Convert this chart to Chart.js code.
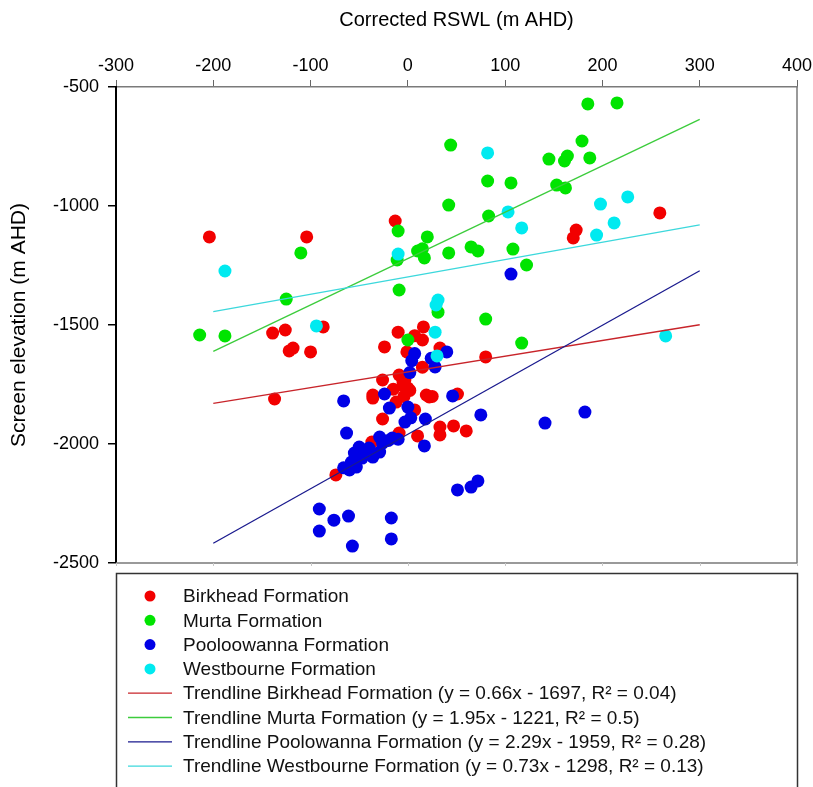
<!DOCTYPE html>
<html>
<head>
<meta charset="utf-8">
<script src="https://cdn.jsdelivr.net/npm/chart.js@4.4.1/dist/chart.umd.min.js"></script>
<style>
  html, body { margin: 0; padding: 0; background: #fff; }
  #wrap { width: 813px; height: 787px; }
</style>
</head>
<body>
<div id="wrap"><canvas id="scatterChart" width="813" height="787"></canvas></div>
<script>
// values: [Corrected RSWL, Screen elevation] in m AHD
var birkhead = [
  [-204, -1130], [-104, -1130], [-13, -1063], [259, -1029], [173, -1101], [170, -1134],
  [-139, -1534], [-126, -1521], [-122, -1609], [-118, -1597], [-100, -1613], [-87, -1508], [-137, -1811],
  [-10, -1530], [16, -1508], [-24, -1592], [7, -1545], [15, -1563], [-1, -1613], [15, -1677],
  [-26, -1731], [-9, -1710], [-5, -1740], [0, -1765], [-5, -1755], [-36, -1794], [19, -1794],
  [33, -1597], [25, -1800], [-36, -1807], [-12, -1824], [7, -1857], [-26, -1895], [-9, -1954],
  [10, -1966], [33, -1929], [33, -1962], [47, -1924], [60, -1945], [-37, -1992], [-74, -2130],
  [80, -1634], [51, -1790], [-3, -1730], [2, -1775], [-15, -1770], [-4, -1800], [22, -1802]
];
var murta = [
  [185, -571], [215, -567], [44, -744], [179, -727], [145, -803], [161, -811], [164, -790],
  [187, -798], [82, -895], [106, -903], [153, -912], [162, -924], [42, -996], [83, -1042],
  [20, -1130], [10, -1189], [17, -1218], [42, -1197], [65, -1172], [72, -1189], [108, -1181],
  [122, -1248], [80, -1475], [31, -1446], [-10, -1105], [-11, -1227], [-9, -1353], [15, -1180],
  [-110, -1197], [-125, -1391], [-214, -1542], [-188, -1546], [0, -1563], [117, -1576]
];
var poolowanna = [
  [106, -1286], [40, -1613], [28, -1676], [24, -1640], [46, -1798], [75, -1878], [141, -1912],
  [182, -1866], [17, -2008], [18, -1895], [-3, -1908], [0, -1845], [51, -2193], [65, -2181],
  [72, -2155], [7, -1620], [4, -1650], [2, -1700], [-66, -1819], [-63, -1954], [-24, -1790],
  [-19, -1849], [-91, -2273], [-76, -2320], [-61, -2303], [-91, -2366], [-57, -2429], [-17, -2311],
  [-17, -2399], [-29, -1971], [-16, -1975], [-10, -1980], [-26, -1996], [-40, -2017], [-50, -2013],
  [-55, -2038], [-47, -2059], [-36, -2055], [-29, -2034], [-58, -2076], [-53, -2097], [-60, -2109],
  [-66, -2100], [-44, -2040], [-20, -1985], [3, -1890]
];
var westbourne = [
  [-188, -1273], [-10, -1202], [-94, -1504], [31, -1395], [29, -1416], [28, -1530], [82, -777],
  [103, -1025], [117, -1092], [198, -992], [226, -962], [212, -1071], [194, -1122], [265, -1546],
  [30, -1630]
];

// trendline end points (x = -200 and x = 300)
var trendBirkhead = [[-200, -1829], [300, -1499]];
var trendMurta = [[-200, -1611], [300, -636]];
var trendPoolowanna = [[-200, -2417], [300, -1272]];
var trendWestbourne = [[-200, -1444], [300, -1079]];

var xTicks = [-300, -200, -100, 0, 100, 200, 300, 400];
var yTicks = [-500, -1000, -1500, -2000, -2500];

function toPoints(list) {
  return list.map(function (p) { return { x: p[0], y: p[1] }; });
}

function pointSet(label, list, color, order) {
  return {
    label: label,
    data: toPoints(list),
    backgroundColor: color,
    borderColor: color,
    borderWidth: 0,
    pointRadius: 6.5,
    pointHoverRadius: 6.5,
    order: order
  };
}

function trendSet(label, list, color, order) {
  return {
    label: label,
    data: toPoints(list),
    showLine: true,
    borderColor: color,
    backgroundColor: color,
    borderWidth: 1.3,
    pointRadius: 0,
    order: order
  };
}

// right + bottom frame lines with the small bottom ticks
var frameLines = {
  id: 'frameLines',
  afterDraw: function (chart) {
    var ctx = chart.ctx;
    var a = chart.chartArea;
    var xs = chart.scales.x;
    ctx.save();
    ctx.strokeStyle = '#7a7a7a';
    ctx.lineWidth = 1.5;
    ctx.beginPath();
    ctx.moveTo(a.left, a.bottom);
    ctx.lineTo(a.right, a.bottom);
    ctx.lineTo(a.right, a.top);
    ctx.stroke();
    ctx.strokeStyle = '#c8c8c8';
    ctx.lineWidth = 1;
    xTicks.forEach(function (v) {
      var px = Math.round(xs.getPixelForValue(v)) + 0.5;
      ctx.beginPath();
      ctx.moveTo(px, a.bottom);
      ctx.lineTo(px, a.bottom + 3);
      ctx.stroke();
    });
    ctx.restore();
  }
};

// boxed legend under the plot, one entry per row
var legendBox = {
  id: 'legendBox',
  afterDraw: function (chart) {
    var ctx = chart.ctx;
    var a = chart.chartArea;
    var left = a.left;
    var top = a.bottom + 10;
    ctx.save();
    ctx.strokeStyle = '#333';
    ctx.lineWidth = 1.5;
    ctx.strokeRect(left + 0.5, top + 0.5, a.right - left, 260);
    ctx.font = '19px "Liberation Sans", Arial, sans-serif';
    ctx.textBaseline = 'middle';
    chart.data.datasets.forEach(function (ds, i) {
      var y = top + 23 + i * 24.3;
      if (ds.showLine) {
        ctx.strokeStyle = ds.borderColor;
        ctx.lineWidth = 1.3;
        ctx.beginPath();
        ctx.moveTo(left + 12, y);
        ctx.lineTo(left + 56, y);
        ctx.stroke();
      } else {
        ctx.fillStyle = ds.backgroundColor;
        ctx.beginPath();
        ctx.arc(left + 34, y, 5.5, 0, Math.PI * 2);
        ctx.fill();
      }
      ctx.fillStyle = '#111';
      ctx.fillText(ds.label, left + 67, y + 1);
    });
    ctx.restore();
  }
};

function plainTick(value) {
  return String(value);
}

document.addEventListener('DOMContentLoaded', function () {
  Chart.defaults.font.family = '"Liberation Sans", Arial, sans-serif';
  Chart.defaults.color = '#000';

  var ctx = document.getElementById('scatterChart').getContext('2d');

  var data = {
    datasets: [
      pointSet('Birkhead Formation', birkhead, '#f20000', 8),
      pointSet('Murta Formation', murta, '#00e400', 7),
      pointSet('Pooloowanna Formation', poolowanna, '#0000e6', 6),
      pointSet('Westbourne Formation', westbourne, '#00eaf0', 5),
      trendSet('Trendline Birkhead Formation (y = 0.66x - 1697, R\u00b2 = 0.04)', trendBirkhead, '#c8242a', 4),
      trendSet('Trendline Murta Formation (y = 1.95x - 1221, R\u00b2 = 0.5)', trendMurta, '#3ccc3c', 3),
      trendSet('Trendline Poolowanna Formation (y = 2.29x - 1959, R\u00b2 = 0.28)', trendPoolowanna, '#1a1a8e', 2),
      trendSet('Trendline Westbourne Formation (y = 0.73x - 1298, R\u00b2 = 0.13)', trendWestbourne, '#3cd8dc', 1)
    ]
  };

  var options = {
    responsive: false,
    animation: false,
    layout: { padding: { left: 0, top: 0, right: 16, bottom: 224 } },
    plugins: {
      legend: { display: false },
      tooltip: { enabled: false }
    },
    scales: {
      x: {
        type: 'linear',
        position: 'top',
        min: -300,
        max: 400,
        afterFit: function (scale) {
          scale.height = 87;
          scale.paddingLeft = 0;
          scale.paddingRight = 0;
        },
        afterBuildTicks: function (scale) {
          scale.ticks = xTicks.map(function (v) { return { value: v }; });
        },
        ticks: { font: { size: 18 }, padding: 3, maxRotation: 0, callback: plainTick },
        grid: { drawOnChartArea: false, drawTicks: true, tickLength: 7, color: '#666', lineWidth: 1 },
        border: { display: true, color: '#7a7a7a', width: 1.5 },
        title: {
          display: true,
          text: 'Corrected RSWL (m AHD)',
          font: { size: 20 },
          padding: { top: 8, bottom: 0 }
        }
      },
      y: {
        type: 'linear',
        position: 'left',
        min: -2500,
        max: -500,
        afterFit: function (scale) {
          scale.width = 116;
          scale.paddingTop = 0;
          scale.paddingBottom = 0;
        },
        afterBuildTicks: function (scale) {
          scale.ticks = yTicks.map(function (v) { return { value: v }; });
        },
        ticks: { font: { size: 18 }, padding: 9, callback: plainTick },
        grid: { drawOnChartArea: false, drawTicks: true, tickLength: 8, color: '#000', lineWidth: 1.5 },
        border: { display: true, color: '#000', width: 2 },
        title: {
          display: true,
          text: 'Screen elevation (m AHD)',
          font: { size: 21 },
          padding: { top: 7, bottom: 0 }
        }
      }
    }
  };

  var scatterChart = new Chart(ctx, {
    type: 'scatter',
    data: data,
    options: options,
    plugins: [frameLines, legendBox]
  });
});
</script>
</body>
</html>
